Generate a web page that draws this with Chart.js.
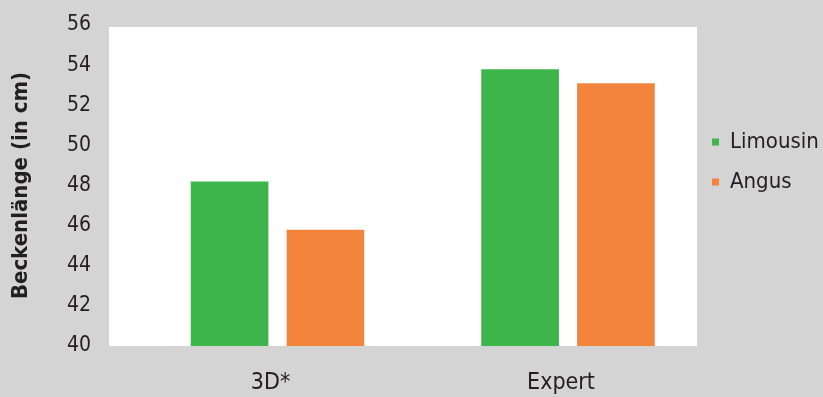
<!DOCTYPE html>
<html>
<head>
<meta charset="utf-8">
<script src="https://cdn.jsdelivr.net/npm/chart.js@4/dist/chart.umd.min.js"></script>
<style>
  html, body { margin: 0; padding: 0; background: #d3d4d3; }
  #wrap { width: 823px; height: 397px; }
</style>
</head>
<body>
<div id="wrap"><canvas id="c" width="823" height="397"></canvas></div>
<script>
// Pelvic length by measuring method and breed
const categories = ['3D*', 'Expert'];
const limousin = [48.2, 53.8];
const angus = [45.8, 53.1];
const yTicks = [40, 42, 44, 46, 48, 50, 52, 54, 56];

const FONT = '"DejaVu Sans Condensed", "DejaVu Sans", "Liberation Sans", sans-serif';
const STRETCH = 'normal condensed';
const TEXT = '#231f20';

const toPoints = vals => vals.map((v, i) => ({ x: i, y: v }));

// Grey page with a white plotting area
const backdrop = {
  id: 'backdrop',
  beforeDraw(chart) {
    const { ctx, chartArea: a } = chart;
    ctx.save();
    ctx.fillStyle = '#d3d4d3';
    ctx.fillRect(0, 0, chart.width, chart.height);
    ctx.fillStyle = '#ffffff';
    ctx.fillRect(a.left, a.top + 2, a.right - a.left, a.bottom - a.top - 2);
    ctx.restore();
  }
};

// Nudge the legend: a bit left, and above the vertical middle
const legendShift = {
  id: 'legendShift',
  afterLayout(chart) {
    const lg = chart.legend;
    if (!lg) return;
    lg.left -= 3;
    lg.right -= 3;
    lg.bottom -= 98;
  }
};

new Chart(document.getElementById('c'), {
  type: 'bar',
  data: {
    datasets: [
      { label: 'Limousin', data: toPoints(limousin), backgroundColor: '#3db54a' },
      { label: 'Angus', data: toPoints(angus), backgroundColor: '#f2843b' }
    ]
  },
  options: {
    responsive: false,
    animation: false,
    categoryPercentage: 0.66,
    barPercentage: 0.81,
    layout: { padding: { left: 8, right: 0, top: 25, bottom: 0 } },
    plugins: {
      tooltip: { enabled: false },
      legend: {
        position: 'right',
        align: 'center',
        maxWidth: 126,
        labels: {
          boxWidth: 7,
          boxHeight: 7,
          padding: 18,
          color: TEXT,
          font: { family: FONT, style: STRETCH, size: 22 }
        }
      }
    },
    scales: {
      x: {
        type: 'linear',
        offset: false,
        min: -0.58,
        max: 1.444,
        grid: { display: false },
        border: { display: false },
        afterBuildTicks(scale) {
          scale.ticks = categories.map((c, i) => ({ value: i }));
        },
        afterFit(scale) { scale.height = 51; },
        ticks: {
          padding: 15,
          labelOffset: -7,
          color: TEXT,
          font: { family: FONT, style: STRETCH, size: 23 },
          callback: v => categories[v]
        }
      },
      y: {
        min: 40,
        max: 56,
        grid: { display: false },
        border: { display: false },
        afterBuildTicks(scale) {
          scale.ticks = yTicks.map(v => ({ value: v }));
        },
        afterFit(scale) { scale.width = 101; },
        ticks: {
          padding: 10,
          color: TEXT,
          font: { family: FONT, style: STRETCH, size: 21 }
        },
        title: {
          display: true,
          text: 'Beckenlänge (in cm)',
          color: TEXT,
          padding: { top: 0, bottom: 13 },
          font: { family: FONT, style: STRETCH, size: 22, weight: 'bold' }
        }
      }
    }
  },
  plugins: [backdrop, legendShift]
});
</script>
</body>
</html>
